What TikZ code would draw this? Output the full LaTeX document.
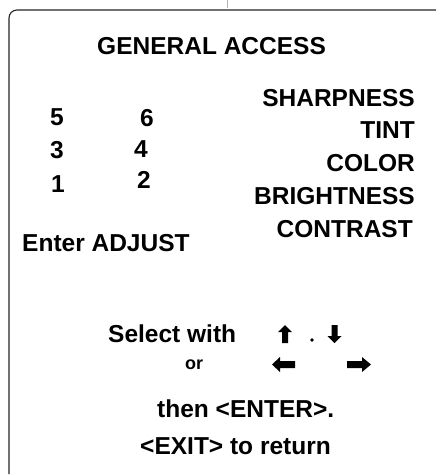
\documentclass[tikz,border=0pt]{standalone}
\usepackage{fontspec}
\setmainfont{Liberation Sans}
\begin{document}
\begin{tikzpicture}[x=1pt,y=-1pt,
  lbl/.style={inner sep=0pt, font=\fontsize{24.5}{29}\selectfont\bfseries, text=black},
  small/.style={inner sep=0pt, font=\fontsize{18}{22}\selectfont\bfseries, text=black},
  framel/.style={line width=1.1pt, draw=black!85},
  arrowshape/.style={fill=black, draw=none}]
\useasboundingbox (0,0) rectangle (437,475);
\fill[white] (0,0) rectangle (437,475);
% frame
\draw[framel, rounded corners=8pt] (9,474) -- (9,10) -- (436,10);
\draw[black!30, line width=0.6pt] (227,0) -- (227,8);
% title
\node[lbl, anchor=base west] (title) at (97,54) {GENERAL ACCESS};
% right column
\node[lbl, anchor=base east] (sharp) at (415,106) {SHARPNESS};
\node[lbl, anchor=base east] (tint) at (415,138) {TINT};
\node[lbl, anchor=base east] (color) at (415,171) {COLOR};
\node[lbl, anchor=base east] (bright) at (415,204) {BRIGHTNESS};
\node[lbl, anchor=base east] (contrast) at (413,237) {CONTRAST};
% numbers
\node[lbl, anchor=base west] (n5) at (50,125) {5};
\node[lbl, anchor=base west] (n6) at (140,126) {6};
\node[lbl, anchor=base west] (n3) at (50,158) {3};
\node[lbl, anchor=base west] (n4) at (134,157) {4};
\node[lbl, anchor=base west] (n1) at (51,192) {1};
\node[lbl, anchor=base west] (n2) at (137,188) {2};
% enter adjust
\node[lbl, anchor=base west] (adjust) at (22,251) {Enter ADJUST};
% bottom
\node[lbl, anchor=base west] (select) at (108,342) {Select with};
\node[small, anchor=base west] (or) at (185,369) {or};
\node[lbl, anchor=base west] (then) at (157,417) {then <ENTER>.};
\node[lbl, anchor=base west] (exit) at (140,454) {<EXIT> to return};
% arrows
% up
\fill[arrowshape] (282,343) -- (282,332) -- (278,332) -- (285,325) -- (292,332) -- (288,332) -- (288,343) -- cycle;
% dot
\fill[black] (312,340) circle (1.9);
% down
\fill[arrowshape] (331.5,325) -- (331.5,336) -- (327.5,336) -- (334.5,343) -- (341.5,336) -- (337.5,336) -- (337.5,325) -- cycle;
% left
\fill[arrowshape] (295,361) -- (280,361) -- (280,357) -- (272,364.5) -- (280,372) -- (280,368) -- (295,368) -- cycle;
% right
\fill[arrowshape] (347,361) -- (362,361) -- (362,357) -- (371,364.5) -- (362,372) -- (362,368) -- (347,368) -- cycle;
\end{tikzpicture}
\end{document}
